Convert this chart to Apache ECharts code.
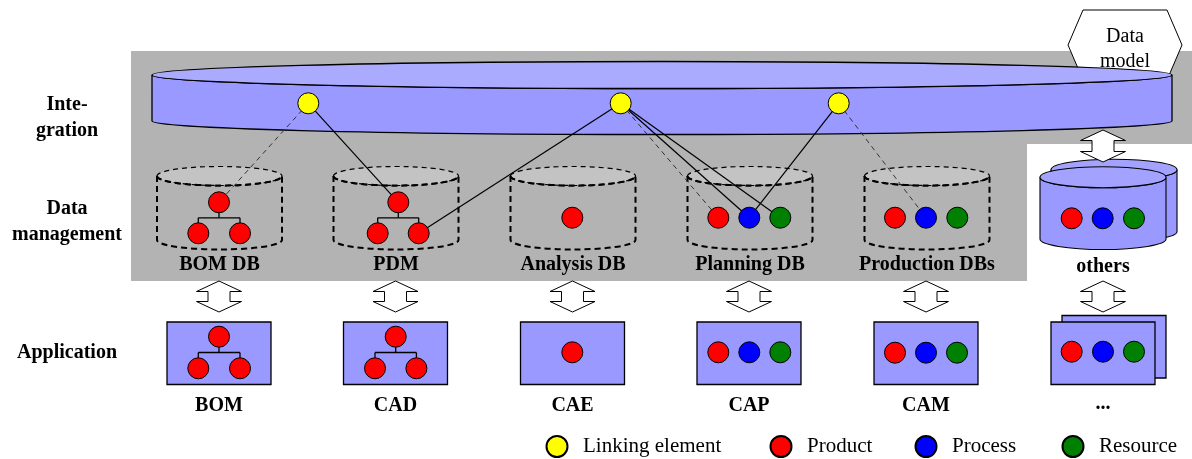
<!DOCTYPE html>
<html>
<head>
<meta charset="utf-8">
<script src="https://cdn.jsdelivr.net/npm/echarts@6/dist/echarts.min.js"></script>
<style>html,body{margin:0;padding:0;background:#fff}#chart{width:1192px;height:459px}</style>
</head>
<body>
<div id="chart"></div>
<script>
// ---------------- data ----------------
const layerLabels = ['Inte-\ngration', 'Data\nmanagement', 'Application'];
const layerLabelY = [118, 222, 353];
const layerLabelX = 67;

const dbLabels = ['BOM DB', 'PDM', 'Analysis DB', 'Planning DB', 'Production DBs', 'others'];
const dbCenterX = [219.5, 396, 573, 750, 927, 1103];
const dbLabelY = [265, 265, 265, 265, 265, 266.5];

const appLabels = ['BOM', 'CAD', 'CAE', 'CAP', 'CAM', '...'];
const appCenterX = [219, 395.5, 572.5, 749, 926, 1103];
const appLabelY = [405.5, 405.5, 405.5, 405.5, 405.5, 404];

const dataModelLabel = 'Data\nmodel';
const dataModelHex = [[1083, 10], [1167, 10], [1182, 45], [1167, 80], [1083, 80], [1068, 45]];

const integrationArea = [[131, 51], [1192, 51], [1192, 144], [1027, 144], [1027, 281], [131, 281]];

const legendNames = ['Linking element', 'Product', 'Process', 'Resource'];
const legendCenterX = [556, 780, 925, 1072];

// elements (x, y)
const linkNodes = [[308.3, 103.3], [620.7, 103.3], [838.7, 103.3]];
const productNodes = [
  [219, 202.3], [198.3, 233.3], [240, 233.3],        // 0-2 BOM DB tree
  [398.3, 202.3], [377.7, 233.3], [418.7, 233.3],    // 3-5 PDM tree
  [572.3, 217.7],                                    // 6 Analysis DB
  [718.3, 217.7],                                    // 7 Planning DB
  [895, 217.7],                                      // 8 Production DBs
  [1071.7, 218.3],                                   // 9 others
  [219, 336.7], [198.3, 368.3], [240, 368.3],        // 10-12 BOM
  [395.7, 336.7], [375, 368.3], [416.4, 368.3],      // 13-15 CAD
  [572.3, 352.3],                                    // 16 CAE
  [718.3, 352.3],                                    // 17 CAP
  [895, 352.7],                                      // 18 CAM
  [1071.7, 351.7]                                    // 19 ...
];
const processNodes = [[749.3, 217.7], [926, 217.7], [1102.7, 218.3], [749.3, 352.3], [926, 352.7], [1103, 351.7]];
const resourceNodes = [[780.3, 217.7], [957.3, 217.7], [1134, 218.3], [780.3, 352.3], [957, 352.7], [1134, 351.7]];

// product trees: [parent, child, child] indices into productNodes
const productTrees = [[0, 1, 2], [3, 4, 5], [10, 11, 12], [13, 14, 15]];

// links: [linking element index, target kind, target index, dashed]
const links = [
  [0, 'product', 0, true],
  [0, 'product', 3, false],
  [1, 'product', 5, false],
  [1, 'product', 7, true],
  [1, 'process', 0, false],
  [1, 'resource', 0, false],
  [2, 'process', 0, false],
  [2, 'process', 1, true]
];

// integration disk: [cx, topY, bottomY, rx, ry]
const integrationDisk = [662, 75, 121, 510, 13.5];
// DB cylinders: [topY, bottomY, rx, ry]
const dbCylinder = [176, 240, 62.5, 9.5];
// application boxes: [topY, bottomY, halfWidth]
const appBox = [322, 384.5, 52];
// double arrows: [x, topY, bottomY]
const arrows = appCenterX.map(x => [x, 281, 312]).concat([[1103, 130, 162]]);

// ---------------- rendering ----------------
const FONT = 'Liberation Serif, Times New Roman, serif';
const targetOf = { product: productNodes, process: processNodes, resource: resourceNodes };

function px(api, x, y) { return api.coord([x, y]); }

function cylinderShapes(api, cx, rx, topY, botY, ry, o) {
  const l = px(api, cx - rx, topY), r = px(api, cx + rx, topY);
  const lb = px(api, cx - rx, botY), rb = px(api, cx + rx, botY);
  const c = px(api, cx, topY);
  const RX = r[0] - c[0];
  const RY = px(api, cx, topY + ry)[1] - c[1];
  const side = `M${l[0]},${l[1]} L${lb[0]},${lb[1]} A${RX},${RY} 0 0 0 ${rb[0]},${rb[1]} L${r[0]},${r[1]} A${RX},${RY} 0 0 1 ${l[0]},${l[1]} Z`;
  const front = `M${l[0]},${l[1]} A${RX},${RY} 0 0 0 ${r[0]},${r[1]}`;
  const kids = [
    { type: 'path', shape: { pathData: side }, style: { fill: o.side, stroke: '#000', lineWidth: o.lw, lineDash: o.dash || null } },
    { type: 'ellipse', shape: { cx: c[0], cy: c[1], rx: RX, ry: RY }, style: { fill: o.top, stroke: '#000', lineWidth: o.topLw || o.lw, lineDash: o.topDash || o.dash || null } }
  ];
  if (o.frontLw) kids.push({ type: 'path', shape: { pathData: front }, style: { fill: null, stroke: '#000', lineWidth: o.frontLw, lineDash: o.dash || null } });
  return kids;
}

const textItems = [];
layerLabels.forEach((t, i) => textItems.push([layerLabelX, layerLabelY[i], t, 'bold', 26, 20]));
dbLabels.forEach((t, i) => textItems.push([dbCenterX[i], dbLabelY[i], t, 'bold', 24, 20]));
appLabels.forEach((t, i) => textItems.push([appCenterX[i], appLabelY[i], t, 'bold', 24, 20]));
textItems.push([1125, 49, dataModelLabel, 'normal', 25, 20]);

const option = {
  animation: false,
  backgroundColor: '#ffffff',
  grid: { left: 0, right: 0, top: 0, bottom: 0 },
  xAxis: { type: 'value', min: 0, max: 1192, show: false },
  yAxis: { type: 'value', min: 0, max: 459, inverse: true, show: false },
  legend: legendNames.map((n, i) => ({
    data: [n], left: legendCenterX[i] - 10.5, top: 435, padding: 0,
    itemWidth: 42, itemHeight: 21, icon: 'circle', selectedMode: false,
    textStyle: { fontFamily: FONT, fontSize: 21, color: '#000' }
  })),
  series: [
    { // grey integration / data management area
      type: 'custom', z: 1, silent: true,
      data: [[0, 0]],
      renderItem: (p, api) => ({
        type: 'polygon',
        shape: { points: integrationArea.map(q => px(api, q[0], q[1])) },
        style: { fill: '#b3b3b3' }
      })
    },
    { // data model hexagon
      type: 'custom', z: 2, silent: true,
      data: [[0, 0]],
      renderItem: (p, api) => ({
        type: 'polygon',
        shape: { points: dataModelHex.map(q => px(api, q[0], q[1])) },
        style: { fill: '#ffffff', stroke: '#000', lineWidth: 1 }
      })
    },
    { // integration disk
      type: 'custom', z: 3, silent: true,
      data: [[integrationDisk[0], integrationDisk[1]]],
      renderItem: (p, api) => {
        const [cx, t, b, rx, ry] = integrationDisk;
        return { type: 'group', children: cylinderShapes(api, cx, rx, t, b, ry, { side: '#9999ff', top: '#aaaaff', lw: 1.3 }) };
      }
    },
    { // DB cylinders (dashed) and others (solid, stacked)
      type: 'custom', z: 4, silent: true,
      data: dbCenterX.map((x, i) => [x, dbCylinder[0], i]),
      renderItem: (p, api) => {
        const i = p.dataIndex, cx = dbCenterX[i];
        const [t, b, rx, ry] = dbCylinder;
        if (i === dbCenterX.length - 1) {
          const back = cylinderShapes(api, cx + 11, rx + 0.5, t + 1.2 - 7.5, b - 1 - 7.5, ry + 1, { side: '#9999ff', top: '#a3a3ff', lw: 1.1 });
          const front = cylinderShapes(api, cx, rx + 0.5, t + 1.2, b - 1, ry + 1, { side: '#9999ff', top: '#a3a3ff', lw: 1.1 });
          return { type: 'group', children: back.concat(front) };
        }
        return { type: 'group', children: cylinderShapes(api, cx, rx, t, b, ry, { side: '#b3b3b3', top: '#c3c3c3', lw: 2, dash: [6, 4], topLw: 1.2, topDash: [5, 4], frontLw: 2 }) };
      }
    },
    { // application boxes
      type: 'custom', z: 4, silent: true,
      data: appCenterX.map((x, i) => [x, appBox[0], i]),
      renderItem: (p, api) => {
        const i = p.dataIndex, cx = appCenterX[i];
        const [t, b, hw] = appBox;
        const rect = (dx, dy) => {
          const a = px(api, cx - hw + dx, t + dy), c = px(api, cx + hw + dx, b + dy);
          return { type: 'rect', shape: { x: a[0], y: a[1], width: c[0] - a[0], height: c[1] - a[1] }, style: { fill: '#9999ff', stroke: '#000', lineWidth: 1.3 } };
        };
        if (i === appCenterX.length - 1) return { type: 'group', children: [rect(11, -6.5), rect(0, 0)] };
        return rect(0, 0);
      }
    },
    { // double arrows
      type: 'custom', z: 4, silent: true,
      data: arrows.map(a => [a[0], a[1]]),
      renderItem: (p, api) => {
        const [x, t, b] = arrows[p.dataIndex];
        const hw = 22.5, sw = 11, h = 10.5;
        const pts = [[x, t], [x + hw, t + h], [x + sw, t + h], [x + sw, b - h], [x + hw, b - h], [x, b],
          [x - hw, b - h], [x - sw, b - h], [x - sw, t + h], [x - hw, t + h]];
        return { type: 'polygon', shape: { points: pts.map(q => px(api, q[0], q[1])) }, style: { fill: '#fff', stroke: '#000', lineWidth: 1 } };
      }
    },
    { // solid links
      type: 'lines', coordinateSystem: 'cartesian2d', z: 5, silent: true,
      lineStyle: { color: '#000', width: 1.2, type: 'solid', opacity: 1 },
      data: links.filter(l => !l[3]).map(l => ({ coords: [linkNodes[l[0]], targetOf[l[1]][l[2]]] }))
    },
    { // dashed links
      type: 'lines', coordinateSystem: 'cartesian2d', z: 5, silent: true,
      lineStyle: { color: '#333', width: 1, type: [5, 4], opacity: 1 },
      data: links.filter(l => l[3]).map(l => ({ coords: [linkNodes[l[0]], targetOf[l[1]][l[2]]] }))
    },
    { // product tree connectors
      type: 'custom', z: 5, silent: true,
      data: productTrees.map(t => productNodes[t[0]]),
      renderItem: (p, api) => {
        const [pi, c1, c2] = productTrees[p.dataIndex];
        const P = productNodes[pi], A = productNodes[c1], B = productNodes[c2];
        const my = (P[1] + A[1]) / 2;
        const q = (x, y) => px(api, x, y);
        const s = (a, b) => ({ type: 'line', shape: { x1: a[0], y1: a[1], x2: b[0], y2: b[1] }, style: { stroke: '#000', lineWidth: 1.3 } });
        return { type: 'group', children: [
          s(q(P[0], P[1]), q(P[0], my)),
          s(q(A[0], my), q(B[0], my)),
          s(q(A[0], my), q(A[0], A[1])),
          s(q(B[0], my), q(B[0], B[1]))
        ] };
      }
    },
    { name: legendNames[0], type: 'scatter', z: 6, silent: true, symbolSize: 21, data: linkNodes,
      itemStyle: { color: '#ffff00', borderColor: '#000', borderWidth: 1, opacity: 1 } },
    { name: legendNames[1], type: 'scatter', z: 6, silent: true, symbolSize: 21, data: productNodes,
      itemStyle: { color: '#ff0000', borderColor: '#000', borderWidth: 1, opacity: 1 } },
    { name: legendNames[2], type: 'scatter', z: 6, silent: true, symbolSize: 21, data: processNodes,
      itemStyle: { color: '#0000ff', borderColor: '#000', borderWidth: 1, opacity: 1 } },
    { name: legendNames[3], type: 'scatter', z: 6, silent: true, symbolSize: 21, data: resourceNodes,
      itemStyle: { color: '#008000', borderColor: '#000', borderWidth: 1, opacity: 1 } },
    { // text labels
      type: 'custom', z: 7, silent: true,
      data: textItems.map(t => [t[0], t[1]]),
      renderItem: (p, api) => {
        const [x, y, text, weight, lh, fs] = textItems[p.dataIndex];
        const c = px(api, x, y);
        return { type: 'text', x: c[0], y: c[1], style: {
          text, fill: '#000', fontFamily: FONT, fontSize: fs, fontWeight: weight,
          lineHeight: lh, align: 'center', verticalAlign: 'middle'
        } };
      }
    }
  ]
};

const chart = echarts.init(document.getElementById('chart'), null, { renderer: 'canvas' });
chart.setOption(option);
</script>
</body>
</html>
